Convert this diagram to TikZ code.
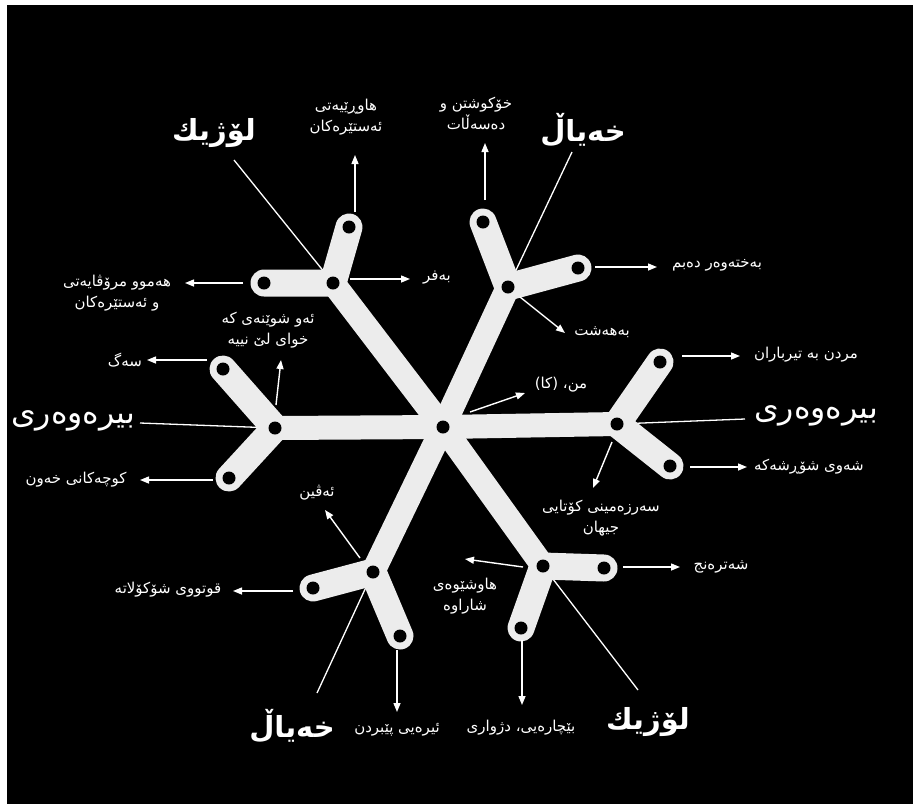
\documentclass[tikz,border=0pt]{standalone}
\usepackage{fontspec}
\usetikzlibrary{arrows.meta}
\TeXXeTstate=1
\newfontfamily\arfont[Script=Arabic]{DejaVu Sans}
\newcommand{\RL}[1]{\beginR #1\endR}
\definecolor{barcol}{RGB}{236,236,236}
\tikzset{
  bar/.style={draw=barcol, line width=24pt, line cap=butt},
  branch/.style={draw=barcol, line width=27pt, line cap=round, line join=round},
  hole/.style={circle, fill=black, inner sep=0pt, minimum size=13pt},
  arr/.style={draw=white, line width=1.4pt, -{Triangle[length=9pt,width=7pt]}},
  lead/.style={draw=white, line width=1.3pt},
  lbl/.style={text=white, font=\arfont\fontsize{15}{21}\selectfont, align=center, inner sep=0pt},
  bigb/.style={text=white, font=\arfont\bfseries\fontsize{29}{36}\selectfont, inner sep=0pt},
  bigr/.style={text=white, font=\arfont\fontsize{31.5}{38}\selectfont, inner sep=0pt}
}
\begin{document}
\begin{tikzpicture}[x=1pt,y=-1pt]
\useasboundingbox (0,0) rectangle (913,804);
\fill[white] (0,0) rectangle (913,804);
\fill[black] (7,5) rectangle (913,804);
% geometry
\coordinate (C) at (443,427);
\coordinate (JUL) at (333,283); \coordinate (UL1) at (264,283); \coordinate (UL2) at (349,227);
\coordinate (JUR) at (508,287); \coordinate (UR1) at (483,222); \coordinate (UR2) at (578,268);
\coordinate (JR) at (617,424);  \coordinate (R1) at (660,362);  \coordinate (R2) at (670,466);
\coordinate (JL) at (275,428);  \coordinate (L1) at (223,369);  \coordinate (L2) at (229,478);
\coordinate (JLL) at (373,572); \coordinate (LL1) at (313,588); \coordinate (LL2) at (400,636);
\coordinate (JLR) at (543,566); \coordinate (LR1) at (604,568); \coordinate (LR2) at (521,628);
% big labels
\node[bigb] (B1) at (214,133) {\RL{لۆژیك}};
\node[bigb] (B2) at (583,130) {\RL{خەیاڵ}};
\node[bigr] (B3) at (73,421) {\RL{بیرەوەری}};
\node[bigr] (B4) at (816,416) {\RL{بیرەوەری}};
\node[bigb] (B5) at (292,726) {\RL{خەیاڵ}};
\node[bigb] (B6) at (648,722) {\RL{لۆژیك}};
\coordinate (b1) at (234,160); \coordinate (b2) at (572,152);
\coordinate (b3) at (140,423); \coordinate (b4) at (745,419);
\coordinate (b5) at (317,693); \coordinate (b6) at (638,690);
\draw[lead] (b1) -- (JUL);
\draw[lead] (b2) -- (JUR);
\draw[lead] (b3) -- (JL);
\draw[lead] (b4) -- (JR);
\draw[lead] (b5) -- (JLL);
\draw[lead] (b6) -- (JLR);
% bars
\foreach \j in {JUL,JUR,JR,JL,JLL,JLR} {\draw[bar] (C) -- (\j);}
\draw[branch] (UL1) -- (JUL) -- (UL2);
\draw[branch] (UR1) -- (JUR) -- (UR2);
\draw[branch] (R1) -- (JR) -- (R2);
\draw[branch] (L1) -- (JL) -- (L2);
\draw[branch] (LL1) -- (JLL) -- (LL2);
\draw[branch] (LR1) -- (JLR) -- (LR2);
% holes
\foreach \p in {C,JUL,UL1,UL2,JUR,UR1,UR2,JR,R1,R2,JL,L1,L2,JLL,LL1,LL2,JLR,LR1,LR2}
  {\node[hole] (h\p) at (\p) {};}
% small labels
\node[lbl] (S1) at (346,117) {\RL{هاوڕێیەتی}\\\RL{ئەستێرەکان}};
\node[lbl] (S2) at (476,114) {\RL{خۆکوشتن و}\\\RL{دەسەڵات}};
\node[lbl] (S3) at (117,293) {\RL{هەموو مرۆڤایەتی}\\\RL{و ئەستێرەکان}};
\node[lbl] (S4) at (437,278) {\RL{بەفر}};
\node[lbl] (S5) at (717,265) {\RL{بەختەوەر دەبم}};
\node[lbl] (S6) at (602,332) {\RL{بەهەشت}};
\node[lbl] (S7) at (268,330) {\RL{ئەو شوێنەی کە}\\\RL{خوای لێ نییە}};
\node[lbl] (S8) at (125,360) {\RL{سەگ}};
\node[lbl] (S9) at (806,355) {\RL{مردن بە تیرباران}};
\node[lbl] (S10) at (561,385) {\RL{من، (کا)}};
\node[lbl] (S11) at (76,480) {\RL{کوچەکانی خەون}};
\node[lbl] (S12) at (809,467) {\RL{شەوی شۆڕشەکە}};
\node[lbl] (S13) at (601,518) {\RL{سەرزەمینی کۆتایی}\\\RL{جیهان}};
\node[lbl] (S14) at (317,493) {\RL{ئەڤین}};
\node[lbl] (S15) at (168,590) {\RL{قوتووی شۆکۆلاتە}};
\node[lbl] (S16) at (465,596) {\RL{هاوشێوەی}\\\RL{شاراوە}};
\node[lbl] (S17) at (721,567) {\RL{شەترەنج}};
\node[lbl] (S18) at (397,730) {\RL{ئیرەیی پێبردن}};
\node[lbl] (S19) at (521,728) {\RL{بێچارەیی، دژواری}};
% arrows
\coordinate (a1s) at (355,212); \coordinate (a1e) at (355,155);
\coordinate (a2s) at (485,200); \coordinate (a2e) at (485,143);
\coordinate (a3s) at (243,283); \coordinate (a3e) at (185,283);
\coordinate (a4s) at (350,279); \coordinate (a4e) at (410,279);
\coordinate (a5s) at (595,267); \coordinate (a5e) at (657,267);
\coordinate (a6s) at (520,297); \coordinate (a6e) at (565,333);
\coordinate (a7s) at (276,405); \coordinate (a7e) at (281,360);
\coordinate (a8s) at (207,360); \coordinate (a8e) at (147,360);
\coordinate (a9s) at (682,356); \coordinate (a9e) at (740,356);
\coordinate (a10s) at (470,412); \coordinate (a10e) at (525,393);
\coordinate (a11s) at (213,480); \coordinate (a11e) at (140,480);
\coordinate (a12s) at (690,467); \coordinate (a12e) at (747,467);
\coordinate (a13s) at (612,442); \coordinate (a13e) at (593,488);
\coordinate (a14s) at (360,558); \coordinate (a14e) at (325,510);
\coordinate (a15s) at (293,591); \coordinate (a15e) at (233,591);
\coordinate (a16s) at (523,567); \coordinate (a16e) at (465,559);
\coordinate (a17s) at (623,567); \coordinate (a17e) at (680,567);
\coordinate (a18s) at (397,650); \coordinate (a18e) at (397,712);
\coordinate (a19s) at (522,640); \coordinate (a19e) at (522,705);
\foreach \k in {1,...,19} {\draw[arr] (a\k s) -- (a\k e);}
\end{tikzpicture}
\end{document}
